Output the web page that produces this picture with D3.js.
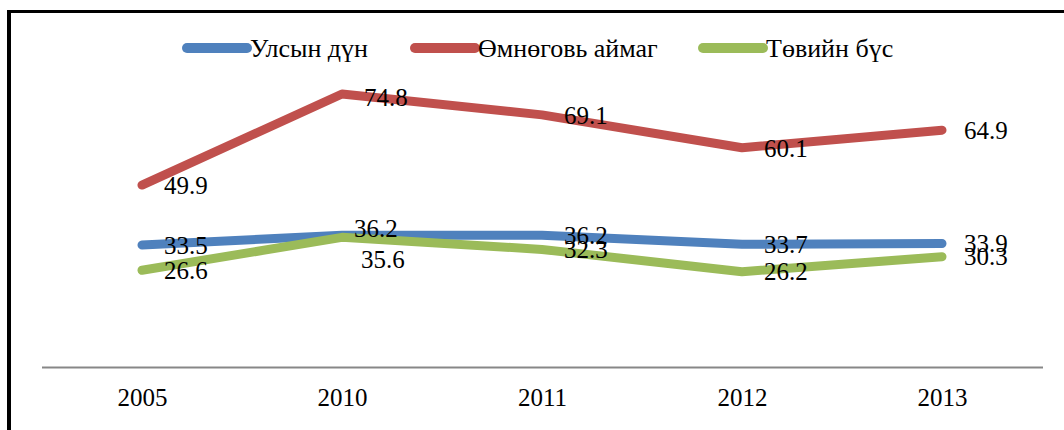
<!DOCTYPE html>
<html>
<head>
<meta charset="utf-8">
<script src="https://cdn.jsdelivr.net/npm/d3@7"></script>
<style>
  body { margin: 0; background: #fff; }
  svg text { font-family: "Liberation Serif", "Times New Roman", serif; fill: #000; }
</style>
</head>
<body>
<div id="chart"></div>
<script>
// data
const years = ["2005", "2010", "2011", "2012", "2013"];
const seriesNames = ["Улсын дүн", "Өмнөговь аймаг", "Төвийн бүс"];
const national = [33.5, 36.2, 36.2, 33.7, 33.9];
const omnogovi = [49.9, 74.8, 69.1, 60.1, 64.9];
const central = [26.6, 35.6, 32.3, 26.2, 30.3];

const colors = ["#4F81BD", "#C0504D", "#9BBB59"];
// hand-moved labels in the original (series index, year index) -> [dx, dy]
const labelNudge = { "0-1": [-10, -7], "2-1": [-3, 22], "1-1": [0, 3] };

const width = 1064, height = 430;
const series = [national, omnogovi, central].map((values, i) => ({
    name: seriesNames[i],
    color: colors[i],
    values: values
}));

const svg = d3.select("#chart").append("svg")
    .attr("width", width)
    .attr("height", height);

// frame (only top and left edges show in the crop)
svg.append("line").attr("x1", 9).attr("x2", width).attr("y1", 11.5).attr("y2", 11.5)
    .attr("stroke", "#000").attr("stroke-width", 3);
svg.append("line").attr("x1", 9).attr("x2", 9).attr("y1", 10).attr("y2", height)
    .attr("stroke", "#000").attr("stroke-width", 4);

const x = d3.scalePoint()
    .domain(years)
    .range([142, 942]);

const y = d3.scaleLinear()
    .domain([0, 80])
    .range([367.5, 75]);

// category axis
const xAxis = svg.append("g")
    .attr("transform", "translate(0,367.5)")
    .call(d3.axisBottom(x).tickSize(0).tickPadding(16));
xAxis.select(".domain").remove();
xAxis.append("line")
    .attr("x1", 42).attr("x2", 1043)
    .attr("stroke", "#878787").attr("stroke-width", 2);
xAxis.selectAll(".tick text")
    .attr("font-family", "Liberation Serif")
    .attr("font-size", 25)
    .attr("fill", "#000")
    .attr("dy", "0.9em");

const line = d3.line()
    .x((d, i) => x(years[i]))
    .y(d => y(d));

svg.append("g").selectAll("path")
    .data(series)
    .enter().append("path")
    .attr("d", d => line(d.values))
    .attr("fill", "none")
    .attr("stroke", d => d.color)
    .attr("stroke-width", 9)
    .attr("stroke-linecap", "round")
    .attr("stroke-linejoin", "round");

// data labels, right of each point
series.forEach((s, si) => {
    svg.append("g").selectAll("text")
        .data(s.values)
        .enter().append("text")
        .attr("x", (d, i) => x(years[i]) + 22 + (labelNudge[si + "-" + i] || [0, 0])[0])
        .attr("y", (d, i) => y(d) + (labelNudge[si + "-" + i] || [0, 0])[1])
        .attr("dy", "0.35em")
        .attr("font-size", 25)
        .text(d => d.toFixed(1));
});

// legend
const legendX = [187, 415, 703];
const legend = svg.append("g").selectAll("g")
    .data(series)
    .enter().append("g")
    .attr("transform", (d, i) => "translate(" + legendX[i] + ",48)");
legend.append("line")
    .attr("x1", 0).attr("x2", 60)
    .attr("stroke", d => d.color)
    .attr("stroke-width", 10)
    .attr("stroke-linecap", "round");
legend.append("text")
    .attr("x", 63)
    .attr("y", 0)
    .attr("dy", "0.33em")
    .attr("font-size", 26)
    .text(d => d.name);
</script>
</body>
</html>
